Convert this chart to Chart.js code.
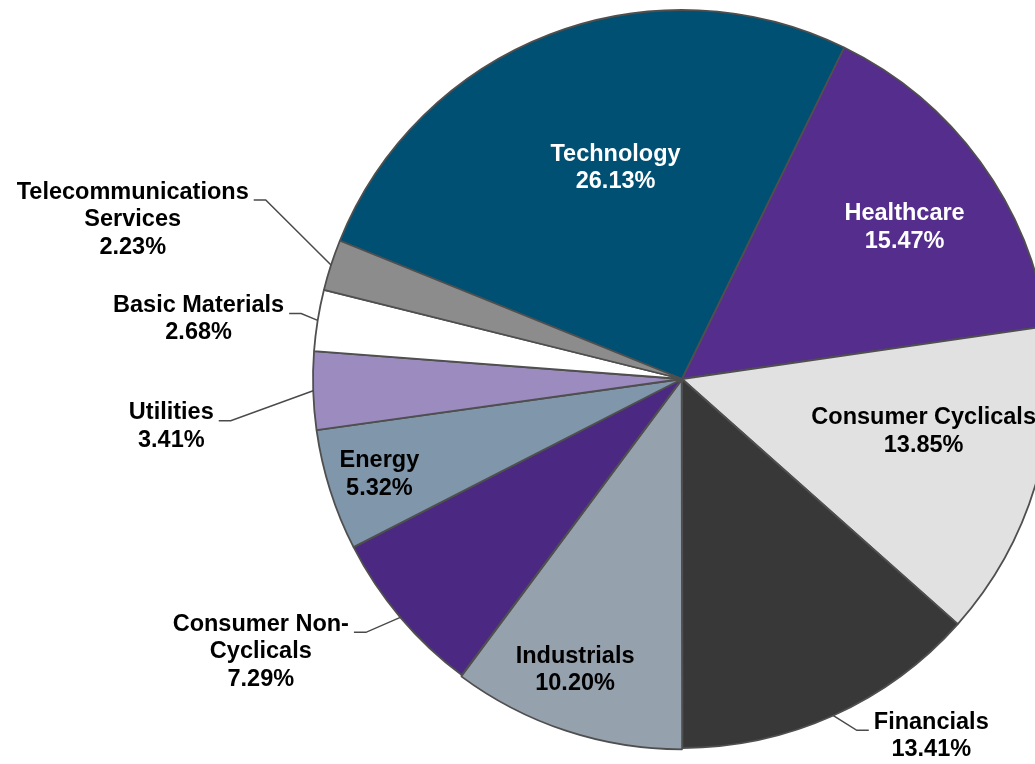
<!DOCTYPE html>
<html>
<head>
<meta charset="utf-8">
<script src="https://cdn.jsdelivr.net/npm/chart.js@4/dist/chart.umd.min.js"></script>
<style>
  html, body { margin: 0; padding: 0; background: #ffffff; overflow: hidden; }
  #wrap { position: absolute; left: 0; top: 0; }
</style>
</head>
<body>
<div id="wrap"><canvas id="myChart" width="1100" height="764"></canvas></div>
<script>
// sector weights, in drawing order (clockwise)
var categories = [
    "Technology",
    "Healthcare",
    "Consumer Cyclicals",
    "Financials",
    "Industrials",
    "Consumer Non-Cyclicals",
    "Energy",
    "Utilities",
    "Basic Materials",
    "Telecommunications Services",
];
var shares = [26.13, 15.47, 13.85, 13.41, 10.20, 7.29, 5.32, 3.41, 2.68, 2.23];

var sliceColors = [
    "#005073", "#552D8C", "#E1E1E1", "#383838", "#95A1AD",
    "#4B2882", "#8096AA", "#9B8BBF", "#FFFFFF", "#8C8C8C",
];
var textColors = [
    "#FFFFFF", "#FFFFFF", "#000000", "#000000", "#000000",
    "#000000", "#000000", "#000000", "#000000", "#000000",
];
// label placement: fraction of radius along the slice middle, plus a small angle nudge (deg)
var labelRadius = [0.60, 0.73, 0.67, 1.18, 0.84, 1.36, 0.86, 1.39, 1.32, 1.55];
var labelNudge = [3.5, 1.8, -4.5, -10.7, 1.9, 7.3, 0, -3.5, -2.1, -1.8];

var FONT = "bold 23.5px 'Liberation Sans', Arial, sans-serif";
var LINE_H = 27.5;

function wrapText(ctx, text, maxW) {
    var parts = text.match(/[^\s-]+-?\s*/g);
    var lines = [];
    var cur = "";
    parts.forEach(function (p) {
        var test = cur + p;
        if (cur && ctx.measureText(test.trim()).width > maxW) {
            lines.push(cur.trim());
            cur = p;
        } else {
            cur = test;
        }
    });
    if (cur) lines.push(cur.trim());
    return lines;
}

var sliceLabels = {
    id: "sliceLabels",
    afterDatasetsDraw: function (chart) {
        var ctx = chart.ctx;
        var meta = chart.getDatasetMeta(0);
        ctx.save();
        ctx.font = FONT;
        ctx.textAlign = "center";
        ctx.textBaseline = "middle";
        meta.data.forEach(function (arc, i) {
            var p = arc.getProps(["x", "y", "startAngle", "endAngle", "outerRadius"], true);
            var mid = (p.startAngle + p.endAngle) / 2;
            var a = mid + labelNudge[i] * Math.PI / 180;
            var r = p.outerRadius * labelRadius[i];
            var cx = p.x + Math.cos(a) * r;
            var cy = p.y + Math.sin(a) * r;
            var lines = wrapText(ctx, categories[i], 250);
            lines.push(shares[i].toFixed(2) + "%");
            var top = cy - (lines.length - 1) * LINE_H / 2;
            ctx.fillStyle = textColors[i];
            lines.forEach(function (ln, k) {
                ctx.fillText(ln, cx, top + k * LINE_H);
            });
            if (labelRadius[i] > 1) {
                // leader line from rim to the first text line
                var w = ctx.measureText(lines[0]).width;
                var ly = top + 8;
                var rimX = p.x + Math.cos(mid) * p.outerRadius;
                var rimY = p.y + Math.sin(mid) * p.outerRadius;
                var side = Math.cos(mid) < 0 ? 1 : -1;
                var edge = cx + side * (w / 2 + 5);
                ctx.strokeStyle = "#4A4A4A";
                ctx.lineWidth = 1.5;
                ctx.beginPath();
                ctx.moveTo(rimX, rimY);
                ctx.lineTo(edge + side * 12, ly);
                ctx.lineTo(edge, ly);
                ctx.stroke();
            }
        });
        ctx.restore();
    },
};

var ctx = document.getElementById("myChart").getContext("2d");
var myChart = new Chart(ctx, {
    type: "pie",
    data: {
        labels: categories,
        datasets: [
            {
                data: shares,
                backgroundColor: sliceColors,
                borderColor: "#4F4F4F",
                borderWidth: 1.8,
                offset: [0, 0, 0, 0, 4, 0, 0, 0, 0, 0],
                clip: false,
            },
        ],
    },
    options: {
        responsive: false,
        animation: false,
        rotation: -68,
        radius: 369,
        layout: {
            padding: { left: 313, right: 49, top: 10, bottom: 16 },
        },
        plugins: {
            legend: { display: false },
            tooltip: { enabled: false },
            title: { display: false },
        },
    },
    plugins: [sliceLabels],
});
</script>
</body>
</html>
